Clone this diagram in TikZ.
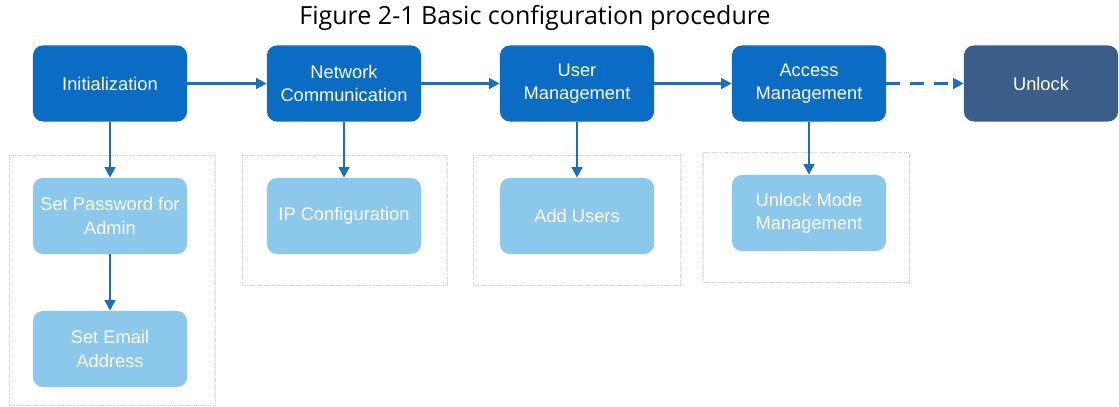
\documentclass[tikz,border=0pt]{standalone}
\usepackage{fontspec}
\setmainfont{Liberation Sans}
\newfontfamily\titlefont{Open Sans}
\usepackage{tikz}
\usetikzlibrary{arrows.meta, positioning}
\definecolor{StepBlue}{HTML}{0A6CC2}
\definecolor{SubBlue}{HTML}{8CC7EC}
\definecolor{UnlockNavy}{HTML}{3A5E89}
\definecolor{LinkBlue}{HTML}{1B6FBE}
\definecolor{FrameGray}{HTML}{D0D0D0}
\tikzset{
  % Box styles
  stepbox/.style={rectangle, rounded corners=7pt, fill=StepBlue, text=white, minimum width=3.85cm, minimum height=1.9cm, font=\fontsize{13}{16.5}\selectfont, align=center, inner sep=2pt},
  subbox/.style={stepbox, fill=SubBlue},
  endbox/.style={stepbox, fill=UnlockNavy},
  groupframe/.style={draw=FrameGray, densely dotted, line width=0.5pt},
  % Arrow styles
  link/.style={-{Triangle[length=7.5pt, width=7.5pt]}, line width=1.8pt, LinkBlue},
  dashedlink/.style={link, dash pattern=on 10pt off 7pt}
}
\begin{document}
\begin{tikzpicture}[x=0.025cm, y=-0.025cm]
  \useasboundingbox (0,0) rectangle (1119,407);

  % Title
  \node[font=\titlefont\fontsize{17.8}{20}\selectfont] (title) at (535,18) {Figure 2-1 Basic configuration procedure};

  % Dotted groups
  \draw[groupframe] (9,155) rectangle (215,405);
  \draw[groupframe] (242,155) rectangle (447,285);
  \draw[groupframe] (473,155) rectangle (680,285);
  \draw[groupframe] (703,152) rectangle (909,282);

  % Main steps
  \node[stepbox] (init) at (110,83.5) {Initialization};
  \node[stepbox] (net) at (344,83.5) {Network\\Communication};
  \node[stepbox] (user) at (577,83.5) {User\\Management};
  \node[stepbox] (access) at (809,83.5) {Access\\Management};
  \node[endbox] (unlock) at (1041,83.5) {Unlock};

  % Sub steps
  \node[subbox] (pwd) at (110,216) {Set Password for\\Admin};
  \node[subbox] (email) at (110,349) {Set Email\\Address};
  \node[subbox] (ip) at (344,216) {IP Configuration};
  \node[subbox] (adduser) at (577,216) {Add Users};
  \node[subbox] (mode) at (809,213) {Unlock Mode\\Management};

  % Connections
  \draw[link] (init) -- (net);
  \draw[link] (net) -- (user);
  \draw[link] (user) -- (access);
  \draw[dashedlink] (access) -- (unlock);
  \draw[link] (init) -- (pwd);
  \draw[link] (pwd) -- (email);
  \draw[link] (net) -- (ip);
  \draw[link] (user) -- (adduser);
  \draw[link] (access) -- (mode);
\end{tikzpicture}
\end{document}
